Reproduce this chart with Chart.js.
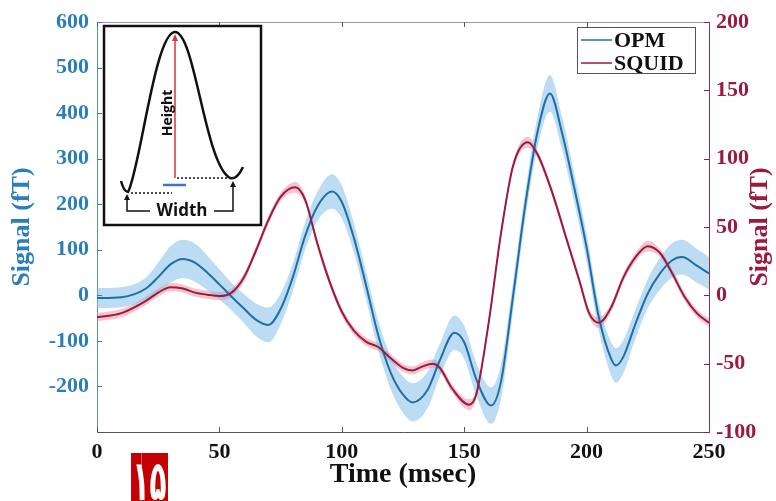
<!DOCTYPE html>
<html>
<head>
<meta charset="utf-8">
<script src="https://cdn.jsdelivr.net/npm/chart.js@4.4.1/dist/chart.umd.min.js"></script>
<style>
  body { margin: 0; background: #fff; }
  canvas { display: block; }
</style>
</head>
<body>
<canvas id="signalChart" width="776" height="501"></canvas>
<script>
// OPM trace (left axis, fT) with its spread band
const opmTime = [0, 10, 20, 25, 30, 35, 40, 45, 50, 55, 60, 65, 70, 75, 80, 85, 90, 96, 100, 105,
  110, 115, 120, 125, 129, 135, 140, 146, 150, 155, 161, 165, 170, 175, 180, 185, 190, 195, 200, 205,
  210, 212, 215, 220, 225, 230, 235, 239, 245, 250];
const opmSignal = [-6, -4, 15, 40, 68, 80, 72, 50, 24, -3, -29, -54, -65, -30, 40, 130, 195, 228, 205, 125,
  20, -90, -170, -218, -235, -208, -143, -82, -103, -185, -242, -190, 0, 200, 360, 443, 356, 235, 105, -48,
  -139, -154, -135, -62, 4, 48, 77, 84, 65, 48];
const opmSpread = [22, 22, 24, 32, 40, 42, 42, 38, 33, 30, 32, 36, 38, 34, 30, 30, 32, 38, 36, 32,
  30, 32, 36, 40, 42, 40, 36, 38, 36, 36, 40, 38, 32, 30, 34, 40, 36, 32, 30, 30,
  36, 38, 36, 32, 32, 35, 38, 38, 37, 36];

// SQUID trace (right axis, fT) with its spread band
const squidTime = [0, 10, 20, 25, 30, 35, 40, 45, 50, 55, 60, 65, 70, 75, 81, 85, 90, 95, 100, 105,
  110, 115, 120, 125, 129, 133, 137, 140, 145, 152, 155, 160, 165, 170, 176, 180, 186, 192, 197, 201,
  205, 210, 215, 220, 225, 230, 235, 240, 245, 250];
const squidSignal = [-16, -13, -4, 2, 6, 5, 2, 0.5, -0.5, 2, 13, 33, 55, 72, 79, 70, 38, 10, -12, -26,
  -34, -38, -46, -53, -55, -52, -50, -53, -68, -80, -72, -20, 45, 95, 112, 103, 75, 40, 11, -13,
  -20, -9, 13, 28, 36, 31, 16, -1, -13, -20];
const squidSpread = [3, 3, 3, 3, 3, 3, 3, 3, 3, 3, 3, 3, 3, 3, 4, 3, 3, 3, 3, 3,
  3, 3, 3, 3, 3, 3, 3, 3, 3, 4, 3, 3, 3, 3, 4, 3, 3, 3, 3, 3,
  4, 3, 3, 3, 4, 3, 3, 3, 3, 3];

const timeTicks = [0, 50, 100, 150, 200, 250];
const opmTicks = [-200, -100, 0, 100, 200, 300, 400, 500, 600];
const squidTicks = [-100, -50, 0, 50, 100, 150, 200];

const OPM_COLOR = '#1f6fa6';
const OPM_BAND = 'rgba(120, 185, 230, 0.5)';
const OPM_TEXT = '#2b7fb8';
const SQUID_COLOR = '#9c1a3f';
const SQUID_BAND = 'rgba(235, 140, 160, 0.5)';
const SERIF = "'Liberation Serif', 'Times New Roman', serif";

function points(times, values, offsets, sign) {
  return times.map((t, i) => ({ x: t, y: values[i] + sign * (offsets ? offsets[i] : 0) }));
}

function bandSet(times, values, spread, axis, color, upper) {
  return {
    label: '',
    data: points(times, values, spread, upper ? 1 : -1),
    yAxisID: axis,
    borderWidth: 0,
    borderColor: 'rgba(0,0,0,0)',
    backgroundColor: color,
    pointRadius: 0,
    cubicInterpolationMode: 'monotone',
    fill: upper ? false : '-1',
    order: 3
  };
}

// small tick marks drawn inside the frame, plus the top border
const framePlugin = {
  id: 'frame',
  afterDraw(chart) {
    const { ctx, chartArea: a, scales } = chart;
    ctx.save();
    ctx.lineWidth = 1;
    ctx.strokeStyle = '#9a9a9a';
    ctx.beginPath();
    ctx.moveTo(a.left, a.top + 0.5);
    ctx.lineTo(a.right, a.top + 0.5);
    ctx.stroke();
    ctx.strokeStyle = '#555';
    timeTicks.forEach(t => {
      const x = Math.round(scales.x.getPixelForValue(t)) + 0.5;
      ctx.beginPath();
      ctx.moveTo(x, a.bottom); ctx.lineTo(x, a.bottom - 5);
      ctx.moveTo(x, a.top); ctx.lineTo(x, a.top + 5);
      ctx.stroke();
    });
    ctx.strokeStyle = OPM_TEXT;
    opmTicks.forEach(v => {
      const y = Math.round(scales.yL.getPixelForValue(v)) + 0.5;
      ctx.beginPath(); ctx.moveTo(a.left, y); ctx.lineTo(a.left + 5, y); ctx.stroke();
    });
    ctx.strokeStyle = SQUID_COLOR;
    squidTicks.forEach(v => {
      const y = Math.round(scales.yR.getPixelForValue(v)) + 0.5;
      ctx.beginPath(); ctx.moveTo(a.right, y); ctx.lineTo(a.right - 5, y); ctx.stroke();
    });

    // right axis title reads bottom-to-top
    ctx.translate(760, (a.top + a.bottom) / 2);
    ctx.rotate(-Math.PI / 2);
    ctx.fillStyle = SQUID_COLOR;
    ctx.font = 'bold 26px ' + SERIF;
    ctx.textAlign = 'center';
    ctx.textBaseline = 'middle';
    ctx.fillText('Signal (fT)', 0, 0);
    ctx.restore();
  }
};

// legend box in the upper right corner of the plot
const legendPlugin = {
  id: 'cornerLegend',
  afterDraw(chart) {
    const { ctx, chartArea: a } = chart;
    const x0 = a.right - 132, y0 = a.top + 5, w = 118, h = 46;
    ctx.save();
    ctx.fillStyle = '#fff';
    ctx.fillRect(x0, y0, w, h);
    ctx.strokeStyle = '#555';
    ctx.lineWidth = 1;
    ctx.strokeRect(x0 + 0.5, y0 + 0.5, w, h);
    const rows = [['OPM', OPM_COLOR], ['SQUID', SQUID_COLOR]];
    ctx.font = 'bold 22px ' + SERIF;
    ctx.textBaseline = 'middle';
    rows.forEach(([name, color], i) => {
      const y = y0 + 13 + i * 23;
      ctx.strokeStyle = color;
      ctx.lineWidth = 1.5;
      ctx.beginPath(); ctx.moveTo(x0 + 4, y); ctx.lineTo(x0 + 35, y); ctx.stroke();
      ctx.fillStyle = '#111';
      ctx.fillText(name, x0 + 37, y + 1);
    });
    ctx.restore();
  }
};

// schematic of a peak with its height and width
const insetPlugin = {
  id: 'peakInset',
  afterDraw(chart) {
    const { ctx, chartArea: a } = chart;
    const ox = a.left + 6 - 103, oy = a.top + 3 - 25;
    const P = (x, y) => [x + ox, y + oy];
    ctx.save();
    ctx.fillStyle = '#fff';
    ctx.fillRect(...P(103, 25), 159, 201);
    ctx.strokeStyle = '#111';
    ctx.lineWidth = 2.5;
    ctx.strokeRect(...P(104, 26), 157, 199);

    // bell-shaped curve
    ctx.lineWidth = 2.5;
    ctx.beginPath();
    ctx.moveTo(...P(121, 181));
    ctx.quadraticCurveTo(...P(124, 192), ...P(128, 192));
    ctx.bezierCurveTo(...P(140, 170), ...P(155, 32), ...P(175, 32));
    ctx.bezierCurveTo(...P(195, 32), ...P(205, 165), ...P(230, 178));
    ctx.quadraticCurveTo(...P(237, 180), ...P(243, 167));
    ctx.stroke();

    // height arrow
    ctx.strokeStyle = '#d9333f';
    ctx.lineWidth = 1.5;
    ctx.beginPath(); ctx.moveTo(...P(175, 178)); ctx.lineTo(...P(175, 40)); ctx.stroke();
    ctx.fillStyle = '#d9333f';
    ctx.beginPath();
    ctx.moveTo(...P(175, 34)); ctx.lineTo(...P(172, 41)); ctx.lineTo(...P(178, 41));
    ctx.closePath(); ctx.fill();
    ctx.strokeStyle = '#4472c4';
    ctx.lineWidth = 2.5;
    ctx.beginPath(); ctx.moveTo(...P(163, 185)); ctx.lineTo(...P(186, 185)); ctx.stroke();

    // dotted base levels
    ctx.strokeStyle = '#111';
    ctx.lineWidth = 1.5;
    ctx.setLineDash([2, 2]);
    ctx.beginPath();
    ctx.moveTo(...P(177, 178)); ctx.lineTo(...P(228, 178));
    ctx.moveTo(...P(131, 193)); ctx.lineTo(...P(172, 193));
    ctx.stroke();
    ctx.setLineDash([]);

    // width bracket
    ctx.lineWidth = 1.5;
    ctx.beginPath();
    ctx.moveTo(...P(127, 199)); ctx.lineTo(...P(127, 211)); ctx.lineTo(...P(150, 211));
    ctx.moveTo(...P(214, 211)); ctx.lineTo(...P(233, 211)); ctx.lineTo(...P(233, 186));
    ctx.stroke();
    ctx.fillStyle = '#111';
    [[127, 194], [233, 181]].forEach(([x, y]) => {
      ctx.beginPath();
      ctx.moveTo(...P(x, y)); ctx.lineTo(...P(x - 3, y + 6)); ctx.lineTo(...P(x + 3, y + 6));
      ctx.closePath(); ctx.fill();
    });
    ctx.font = "bold 17px 'Open Sans', sans-serif";
    ctx.textAlign = 'center';
    ctx.textBaseline = 'middle';
    ctx.fillText('Width', ...P(182, 211));

    ctx.translate(...P(168, 113));
    ctx.rotate(-Math.PI / 2);
    ctx.font = "bold 14px 'Open Sans', sans-serif";
    ctx.fillText('Height', 0, 0);
    ctx.restore();
  }
};

// red page-number badge under the axis, condensed to fit its box
const badgePlugin = {
  id: 'badge',
  afterDraw(chart) {
    const { ctx } = chart;
    ctx.save();
    ctx.fillStyle = '#c40000';
    ctx.fillRect(131, 453, 37, 48);
    ctx.strokeStyle = 'rgba(255,255,255,0.35)';
    ctx.lineWidth = 1;
    ctx.beginPath(); ctx.moveTo(141.5, 453); ctx.lineTo(141.5, 501); ctx.stroke();
    ctx.fillStyle = '#fff';
    ctx.font = "bold 56px 'DejaVu Sans', sans-serif";
    ctx.textAlign = 'center';
    ctx.textBaseline = 'alphabetic';
    const text = '۱۵';
    const m = ctx.measureText(text);
    const sx = Math.min(1, 34 / m.width);
    ctx.translate(149.5, 0);
    ctx.scale(sx, 1);
    ctx.fillText(text, 0, 500 - m.actualBoundingBoxDescent);
    ctx.restore();
  }
};

new Chart(document.getElementById('signalChart'), {
  type: 'line',
  data: {
    datasets: [
      bandSet(opmTime, opmSignal, opmSpread, 'yL', OPM_BAND, true),
      bandSet(opmTime, opmSignal, opmSpread, 'yL', OPM_BAND, false),
      bandSet(squidTime, squidSignal, squidSpread, 'yR', SQUID_BAND, true),
      bandSet(squidTime, squidSignal, squidSpread, 'yR', SQUID_BAND, false),
      {
        label: 'OPM',
        data: points(opmTime, opmSignal, null, 0),
        yAxisID: 'yL',
        borderColor: OPM_COLOR,
        borderWidth: 2,
        pointRadius: 0,
        cubicInterpolationMode: 'monotone',
        fill: false,
        order: 1
      },
      {
        label: 'SQUID',
        data: points(squidTime, squidSignal, null, 0),
        yAxisID: 'yR',
        borderColor: SQUID_COLOR,
        borderWidth: 2,
        pointRadius: 0,
        cubicInterpolationMode: 'monotone',
        fill: false,
        order: 0
      }
    ]
  },
  options: {
    responsive: false,
    devicePixelRatio: 1,
    animation: false,
    layout: { padding: { top: 22, left: 0, right: 0, bottom: 0 } },
    plugins: { legend: { display: false }, tooltip: { enabled: false } },
    scales: {
      x: {
        type: 'linear',
        min: 0,
        max: 250,
        afterFit: s => { s.height = 69; },
        afterBuildTicks: s => { s.ticks = timeTicks.map(v => ({ value: v })); },
        grid: { display: true, drawOnChartArea: false, drawTicks: false },
        border: { display: true, color: '#555', width: 1 },
        ticks: { color: '#111', padding: 7, maxRotation: 0, font: { family: SERIF, size: 22, weight: 'bold' } },
        title: {
          display: true, text: 'Time (msec)', color: '#111',
          padding: { top: 0, bottom: 9 },
          font: { family: SERIF, size: 28, weight: 'bold' }
        }
      },
      yL: {
        type: 'linear',
        position: 'left',
        min: -300,
        max: 600,
        afterFit: s => { s.width = 97; },
        afterBuildTicks: s => { s.ticks = opmTicks.map(v => ({ value: v })); },
        grid: { display: true, drawOnChartArea: false, drawTicks: false },
        border: { display: true, color: '#5a8fb8', width: 1 },
        ticks: { color: OPM_TEXT, padding: 8, font: { family: SERIF, size: 22, weight: 'bold' } },
        title: {
          display: true, text: 'Signal (fT)', color: OPM_TEXT,
          padding: { top: 7, bottom: 0 },
          font: { family: SERIF, size: 26, weight: 'bold' }
        }
      },
      yR: {
        type: 'linear',
        position: 'right',
        min: -100,
        max: 200,
        afterFit: s => { s.width = 67; },
        afterBuildTicks: s => { s.ticks = squidTicks.map(v => ({ value: v })); },
        grid: { display: true, drawOnChartArea: false, drawTicks: false },
        border: { display: true, color: '#8a3050', width: 1 },
        ticks: { color: SQUID_COLOR, padding: 7, font: { family: SERIF, size: 22, weight: 'bold' } }
      }
    }
  },
  plugins: [framePlugin, legendPlugin, insetPlugin, badgePlugin]
});
</script>
</body>
</html>
